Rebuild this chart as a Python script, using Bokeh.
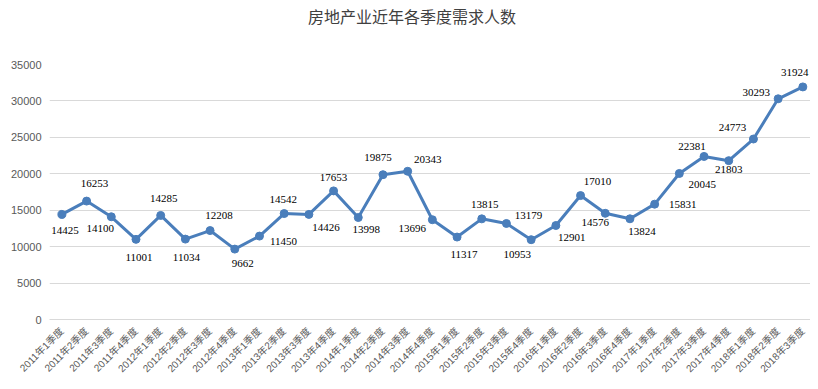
from bokeh.plotting import figure
from bokeh.models import ColumnDataSource, Range1d, FixedTicker, LabelSet, Div
from bokeh.layouts import column
from bokeh.embed import file_html
from bokeh.resources import INLINE
import math

# ---- data ----
categories = [
    "2011年1季度", "2011年2季度", "2011年3季度", "2011年4季度",
    "2012年1季度", "2012年2季度", "2012年3季度", "2012年4季度",
    "2013年1季度", "2013年2季度", "2013年3季度", "2013年4季度",
    "2014年1季度", "2014年2季度", "2014年3季度", "2014年4季度",
    "2015年1季度", "2015年2季度", "2015年3季度", "2015年4季度",
    "2016年1季度", "2016年2季度", "2016年3季度", "2016年4季度",
    "2017年1季度", "2017年2季度", "2017年3季度", "2017年4季度",
    "2018年1季度", "2018年2季度", "2018年3季度",
]
demand = [
    14425, 16253, 14100, 11001,
    14285, 11034, 12208, 9662,
    11450, 14542, 14426, 17653,
    13998, 19875, 20343, 13696,
    11317, 13815, 13179, 10953,
    12901, 17010, 14576, 13824,
    15831, 20045, 22381, 21803,
    24773, 30293, 31924,
]
y_ticks = [0, 5000, 10000, 15000, 20000, 25000, 30000, 35000]
title_text = "房地产业近年各季度需求人数"

# ---- label placement (style: pixel offsets, dy positive = downward) ----
label_dx = [3, 8, -11, 3, 3, 1, 9, 8, 24, -1, 17, 0, 8, -5, 20, -20,
            7, 3, 22, -14, 16, 17, -10, 12, 28, 23, -12, 0, -21, -22, -8]
label_dy = [16, -18, 12, 18, -17, 18, -15, 14, 5, -14, 13, -13, 12, -17, -12, 9,
            17, -14, -8, 15, 12, -14, 9, 13, 0, 11, -10, 9, -12, -6, -14]

LINE = "#4A7EBB"

pos = list(range(len(categories)))
src = ColumnDataSource(dict(
    x=pos, y=demand,
    txt=[str(v) for v in demand],
    xo=label_dx, yo=[-d for d in label_dy],
))

title = Div(
    text=title_text, width=810, height=40, margin=(0, 0, 0, 0),
    styles={"font-family": "'Noto Sans CJK SC'", "font-size": "16px",
            "color": "#404040", "line-height": "22px",
            "padding-left": "308px", "padding-top": "5px"},
)

p = figure(
    width=810, height=341,
    x_range=Range1d(-0.502, len(categories) - 0.69),
    y_range=Range1d(0, 35000),
    output_backend="svg", toolbar_location=None,
    min_border_left=49, min_border_right=0,
    min_border_top=24, min_border_bottom=62,
    margin=(0, 0, 0, 0),
)
p.outline_line_color = None
p.background_fill_color = "white"
p.border_fill_color = "white"

p.line("x", "y", source=src, line_color=LINE, line_width=3)
p.scatter("x", "y", source=src, size=8, fill_color=LINE, line_color=LINE)

labels = LabelSet(x="x", y="y", text="txt", source=src,
                  x_offset="xo", y_offset="yo",
                  text_align="center", text_baseline="middle",
                  text_font="Liberation Sans", text_font_size="11px",
                  text_color="#000000")
p.add_layout(labels)

p.xgrid.grid_line_color = None
p.ygrid.grid_line_color = "#D9D9D9"
p.ygrid.grid_line_width = 1

p.yaxis.ticker = FixedTicker(ticks=y_ticks)
p.yaxis.axis_line_color = None
p.yaxis.major_tick_line_color = None
p.yaxis.minor_tick_line_color = None
p.yaxis.major_tick_out = 0
p.yaxis.major_tick_in = 0
p.yaxis.major_label_standoff = 8
p.yaxis.major_label_text_font = "Liberation Sans"
p.yaxis.major_label_text_font_size = "11px"
p.yaxis.major_label_text_color = "#595959"

p.xaxis.ticker = FixedTicker(ticks=pos)
p.xaxis.major_label_overrides = {i: c for i, c in zip(pos, categories)}
p.xaxis.axis_line_color = "#D9D9D9"
p.xaxis.major_tick_line_color = None
p.xaxis.minor_tick_line_color = None
p.xaxis.major_tick_out = 0
p.xaxis.major_tick_in = 0
p.xaxis.major_label_orientation = math.pi / 4
p.xaxis.major_label_standoff = 10
p.xaxis.major_label_text_font = "Liberation Sans, Noto Sans CJK SC"
p.xaxis.major_label_text_font_size = "10px"
p.xaxis.major_label_text_color = "#595959"

layout = column(title, p, spacing=0, margin=(0, 0, 0, 0))
open("out.html", "w").write(file_html(layout, INLINE))
